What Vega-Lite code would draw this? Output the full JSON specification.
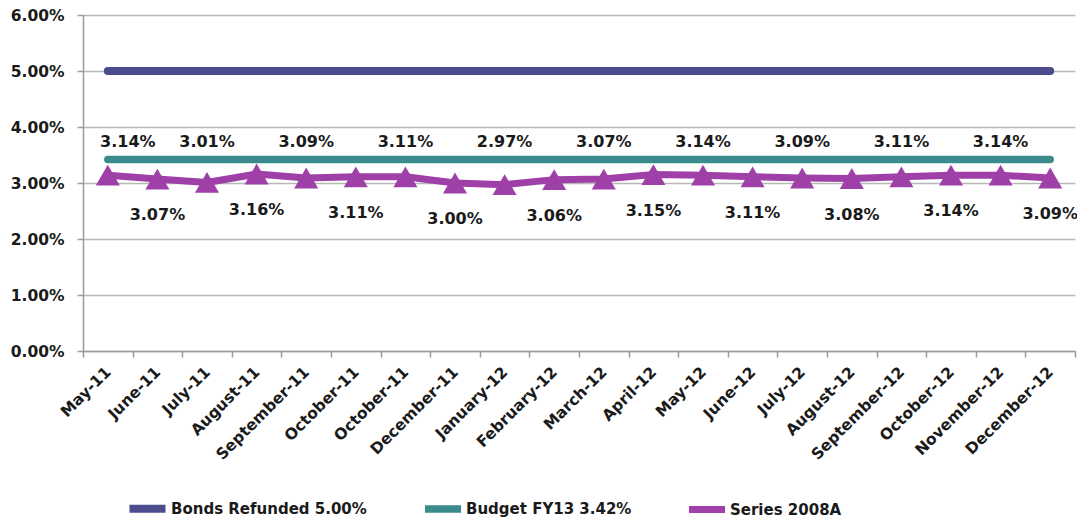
{
  "$schema": "https://vega.github.io/schema/vega-lite/v6.json",
  "width": 992,
  "height": 336,
  "autosize": {"type": "none"},
  "padding": {"left": 83, "top": 15, "right": 2, "bottom": 170},
  "background": "white",
  "config": {
    "view": {"stroke": null},
    "font": "DejaVu Sans",
    "axis": {"labelFont": "DejaVu Sans", "labelFontWeight": "bold", "labelColor": "#1a1a1a"}
  },
  "data": {
    "values": [
      {"i": 0, "month": "May-11", "bonds": 0.05, "budget": 0.0342, "series2008a": 0.0314},
      {"i": 1, "month": "June-11", "bonds": 0.05, "budget": 0.0342, "series2008a": 0.0307},
      {"i": 2, "month": "July-11", "bonds": 0.05, "budget": 0.0342, "series2008a": 0.0301},
      {"i": 3, "month": "August-11", "bonds": 0.05, "budget": 0.0342, "series2008a": 0.0316},
      {"i": 4, "month": "September-11", "bonds": 0.05, "budget": 0.0342, "series2008a": 0.0309},
      {"i": 5, "month": "October-11", "bonds": 0.05, "budget": 0.0342, "series2008a": 0.0311},
      {"i": 6, "month": "October-11 ", "bonds": 0.05, "budget": 0.0342, "series2008a": 0.0311},
      {"i": 7, "month": "December-11", "bonds": 0.05, "budget": 0.0342, "series2008a": 0.0300},
      {"i": 8, "month": "January-12", "bonds": 0.05, "budget": 0.0342, "series2008a": 0.0297},
      {"i": 9, "month": "February-12", "bonds": 0.05, "budget": 0.0342, "series2008a": 0.0306},
      {"i": 10, "month": "March-12", "bonds": 0.05, "budget": 0.0342, "series2008a": 0.0307},
      {"i": 11, "month": "April-12", "bonds": 0.05, "budget": 0.0342, "series2008a": 0.0315},
      {"i": 12, "month": "May-12", "bonds": 0.05, "budget": 0.0342, "series2008a": 0.0314},
      {"i": 13, "month": "June-12", "bonds": 0.05, "budget": 0.0342, "series2008a": 0.0311},
      {"i": 14, "month": "July-12", "bonds": 0.05, "budget": 0.0342, "series2008a": 0.0309},
      {"i": 15, "month": "August-12", "bonds": 0.05, "budget": 0.0342, "series2008a": 0.0308},
      {"i": 16, "month": "September-12", "bonds": 0.05, "budget": 0.0342, "series2008a": 0.0311},
      {"i": 17, "month": "October-12", "bonds": 0.05, "budget": 0.0342, "series2008a": 0.0314},
      {"i": 18, "month": "November-12", "bonds": 0.05, "budget": 0.0342, "series2008a": 0.0314},
      {"i": 19, "month": "December-12", "bonds": 0.05, "budget": 0.0342, "series2008a": 0.0309}
    ]
  },
  "transform": [
    {"fold": ["bonds", "budget", "series2008a"], "as": ["series", "value"]}
  ],
  "encoding": {
    "x": {
      "field": "month",
      "type": "ordinal",
      "sort": null,
      "scale": {"type": "band", "paddingInner": 0, "paddingOuter": 0},
      "axis": {
        "title": null,
        "labelAngle": -45,
        "labelAlign": "right",
        "labelBaseline": "middle",
        "labelFontSize": 15.5,
        "labelExpr": "trim(datum.label)",
        "labelPadding": 12,
        "tickBand": "extent",
        "tickColor": "#9a9a9a",
        "tickWidth": 1.5,
        "tickSize": 6,
        "domainColor": "#9a9a9a",
        "domainWidth": 1.5,
        "grid": false
      }
    },
    "y": {
      "field": "value",
      "type": "quantitative",
      "scale": {"domain": [0, 0.06], "nice": false},
      "axis": {
        "title": null,
        "values": [0, 0.01, 0.02, 0.03, 0.04, 0.05, 0.06],
        "format": ".2%",
        "labelFontSize": 15.5,
        "labelPadding": 13,
        "tickColor": "#9a9a9a",
        "tickWidth": 1.5,
        "tickSize": 6,
        "domainColor": "#9a9a9a",
        "domainWidth": 1.5,
        "grid": true,
        "gridColor": "#b8b8b8",
        "gridWidth": 1.5
      }
    }
  },
  "layer": [
    {
      "mark": {"type": "line", "strokeCap": "round", "strokeJoin": "round"},
      "encoding": {
        "color": {
          "field": "series",
          "type": "nominal",
          "scale": {
            "domain": ["bonds", "budget", "series2008a"],
            "range": ["#4b4c8e", "#3b8a8c", "#9f40a8"]
          },
          "legend": {
            "title": null,
            "orient": "none",
            "direction": "horizontal",
            "legendX": 42,
            "legendY": 471,
            "padding": 0,
            "symbolType": "stroke",
            "symbolSize": 1300,
            "symbolStrokeWidth": 7,
            "labelFont": "DejaVu Sans",
            "labelFontWeight": "bold",
            "labelFontSize": 15,
            "labelColor": "#1a1a1a",
            "labelOffset": 1,
            "columnPadding": 42,
            "labelLimit": 400,
            "labelExpr": "datum.label === 'bonds' ? 'Bonds Refunded 5.00%' : datum.label === 'budget' ? 'Budget FY13 3.42%' : 'Series 2008A'"
          }
        },
        "strokeWidth": {
          "field": "series",
          "type": "ordinal",
          "scale": {"domain": ["bonds", "budget", "series2008a"], "range": [8, 7, 6]},
          "legend": null
        }
      }
    },
    {
      "transform": [{"filter": "datum.series === 'series2008a'"}],
      "mark": {"type": "point", "shape": "triangle-up", "filled": true, "size": 580, "opacity": 1, "color": "#9f40a8"}
    },
    {
      "transform": [{"filter": "datum.series === 'series2008a' && datum.i % 2 === 0 && datum.i > 0"}],
      "mark": {"type": "text", "fontSize": 16, "fontWeight": "bold", "font": "DejaVu Sans", "color": "#1a1a1a"},
      "encoding": {
        "y": {"datum": 0.0373},
        "text": {"field": "value", "type": "quantitative", "format": ".2%"}
      }
    },
    {
      "transform": [{"filter": "datum.series === 'series2008a' && datum.i === 0"}],
      "mark": {"type": "text", "dx": 20, "fontSize": 16, "fontWeight": "bold", "font": "DejaVu Sans", "color": "#1a1a1a"},
      "encoding": {
        "y": {"datum": 0.0373},
        "text": {"field": "value", "type": "quantitative", "format": ".2%"}
      }
    },
    {
      "transform": [{"filter": "datum.series === 'series2008a' && datum.i % 2 === 1"}],
      "mark": {"type": "text", "dy": 36, "fontSize": 16, "fontWeight": "bold", "font": "DejaVu Sans", "color": "#1a1a1a"},
      "encoding": {"text": {"field": "value", "type": "quantitative", "format": ".2%"}}
    }
  ]
}
